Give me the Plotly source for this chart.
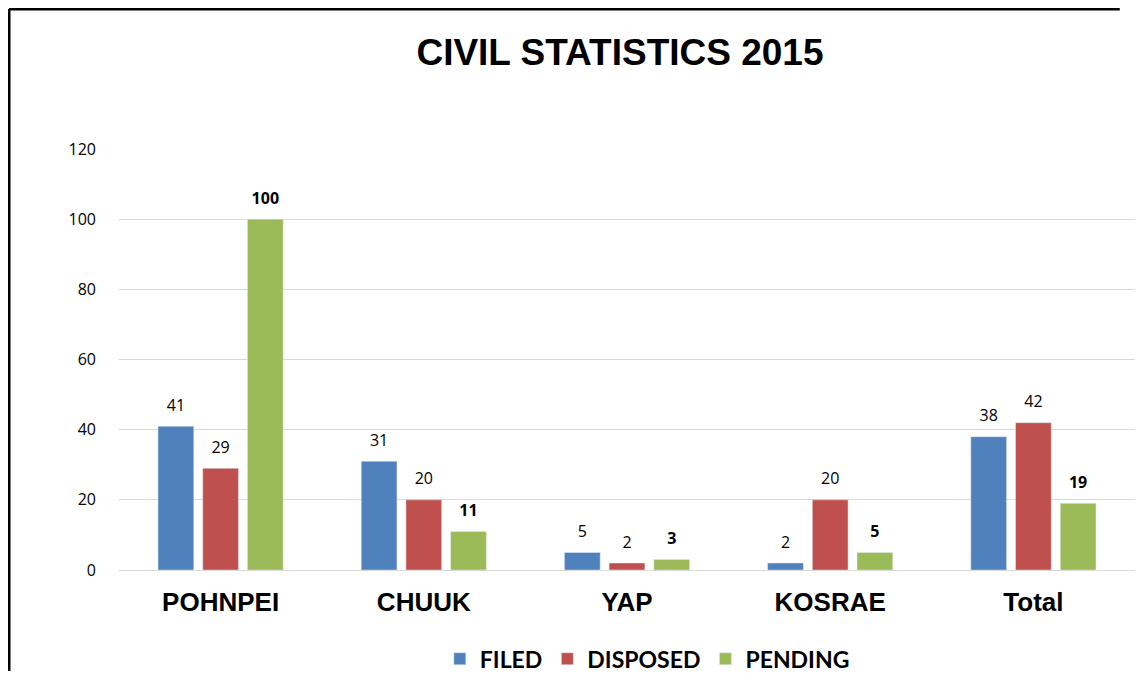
import plotly.graph_objects as go

categories = ['POHNPEI', 'CHUUK', 'YAP', 'KOSRAE', 'Total']
filed = [41, 31, 5, 2, 38]
disposed = [29, 20, 2, 20, 42]
pending = [100, 11, 3, 5, 19]
y_ticks = [0, 20, 40, 60, 80, 100, 120]

colors = {'filed': '#4F81BD', 'disposed': '#C0504D', 'pending': '#9BBB59'}
label_font = 'Open Sans, Lato, sans-serif'

fig = go.Figure()
for name, vals, key, bold in [('FILED', filed, 'filed', False),
                              ('DISPOSED', disposed, 'disposed', False),
                              ('PENDING', pending, 'pending', True)]:
    fig.add_trace(go.Bar(
        x=categories, y=vals, name=name,
        marker=dict(color=colors[key]),
        text=[str(v) for v in vals],
        # small base font + blank second line lifts the label off the bar a bit
        texttemplate="<span style='font-size:16px'>%{text}</span><br> ",
        textposition='outside',
        textfont=dict(family=label_font, size=8, color='#000000',
                      weight='bold' if bold else 'normal'),
        cliponaxis=False,
    ))

# the page puts the figure 8px in from the top-left corner, so sizes are trimmed
fig.update_layout(
    width=1127, height=665,
    paper_bgcolor='white', plot_bgcolor='white',
    margin=dict(l=111, r=0, t=141, b=103, autoexpand=False),
    barmode='group', bargap=0.34, bargroupgap=0.2,
    title=dict(text='<b>CIVIL STATISTICS 2015</b>', x=0.543, xref='container',
               y=0.934, yanchor='middle', xanchor='center',
               font=dict(family='Liberation Sans, Arial', size=37, color='#000000')),
    legend=dict(orientation='h', x=0.52, xanchor='center', y=-0.211, yanchor='middle',
                font=dict(family='Lato, sans-serif', size=23, color='#000000', weight='bold'),
                traceorder='normal', itemwidth=30),
    showlegend=True,
)
fig.update_xaxes(
    tickfont=dict(family='Liberation Sans, Arial', size=26, color='#000000', weight='bold'),
    showline=False, ticklabelstandoff=14,
)
fig.update_yaxes(
    range=[0, 120], tickvals=y_ticks,
    showgrid=True, gridcolor='#D9D9D9', gridwidth=1,
    zeroline=True, zerolinecolor='#D9D9D9', zerolinewidth=1,
    tickfont=dict(family=label_font, size=16, color='#000000'),
    ticklabelstandoff=22,
)
# chart frame: only the top and left edges fall inside the window
top = 1 + 140 / 421
left = -110 / 1016
fig.add_shape(type='line', xref='paper', yref='paper',
              x0=left, x1=0.985, y0=top, y1=top,
              line=dict(color='#000000', width=3))
fig.add_shape(type='line', xref='paper', yref='paper',
              x0=left, x1=left, y0=-0.24, y1=top,
              line=dict(color='#000000', width=3))

fig.write_html('out.html')
